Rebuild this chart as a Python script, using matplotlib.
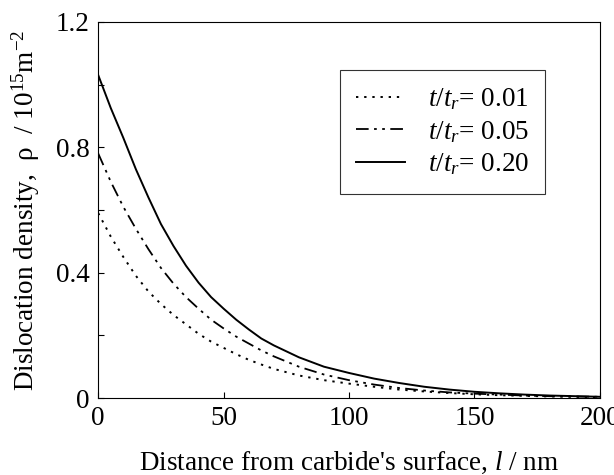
import matplotlib
matplotlib.use("Agg")
import matplotlib.pyplot as plt
from matplotlib.ticker import MultipleLocator

plt.rcParams['font.family'] = ['Liberation Serif', 'DejaVu Serif']
plt.rcParams['mathtext.fontset'] = 'custom'
plt.rcParams['mathtext.rm'] = 'Liberation Serif'
plt.rcParams['mathtext.it'] = 'Liberation Serif:italic'

distance = [0, 5, 10, 15, 20, 25, 30, 35, 40, 45, 50, 55, 60, 65, 70, 80, 90, 100,
            110, 120, 130, 140, 150, 160, 170, 180, 190, 200]
rho_001 = [0.59, 0.515, 0.45, 0.39, 0.34, 0.30, 0.265, 0.235, 0.205, 0.18, 0.16,
           0.14, 0.122, 0.107, 0.093, 0.072, 0.057, 0.046, 0.036, 0.027, 0.021,
           0.016, 0.012, 0.009, 0.007, 0.005, 0.004, 0.003]
rho_005 = [0.78, 0.69, 0.61, 0.54, 0.475, 0.415, 0.365, 0.322, 0.285, 0.25, 0.222,
           0.196, 0.174, 0.152, 0.133, 0.100, 0.075, 0.057, 0.043, 0.032, 0.024,
           0.018, 0.014, 0.011, 0.008, 0.006, 0.005, 0.004]
rho_020 = [1.03, 0.925, 0.83, 0.73, 0.64, 0.555, 0.485, 0.422, 0.368, 0.322, 0.285,
           0.25, 0.219, 0.19, 0.168, 0.130, 0.100, 0.080, 0.062, 0.048, 0.036,
           0.027, 0.020, 0.015, 0.011, 0.008, 0.006, 0.004]
labels = [r'$t/t_r$= 0.01', r'$t/t_r$= 0.05', r'$t/t_r$= 0.20']

FS = 19.5

fig = plt.figure(figsize=(6.14, 4.75), dpi=100)
ax = fig.add_axes([0.160, 0.162, 0.817, 0.792])

ax.plot(distance, rho_001, color='black', lw=1.4, linestyle=(0, (1.2, 3.0)), label=labels[0])
ax.plot(distance, rho_005, color='black', lw=1.3, linestyle=(0, (7, 3, 1.5, 3, 1.5, 3)), label=labels[1])
ax.plot(distance, rho_020, color='black', lw=1.4, linestyle='-', label=labels[2])

ax.set_xlim(0, 200)
ax.set_ylim(0, 1.2)
ax.set_xticks([0, 50, 100, 150, 200])
ax.set_yticks([0, 0.4, 0.8, 1.2])
ax.set_yticklabels(['0', '0.4', '0.8', '1.2'])
ax.yaxis.set_minor_locator(MultipleLocator(0.2))
ax.tick_params(direction='in', length=4, width=0.8, labelsize=FS, pad=6)
ax.tick_params(which='minor', direction='in', length=4, width=0.8)
for s in ax.spines.values():
    s.set_linewidth(0.8)

ax.set_xlabel(r"Distance from carbide's surface, $l$ / nm", fontsize=FS, labelpad=13)
ax.set_ylabel(r"Dislocation density,  ρ  / 10$^{15}$m$^{-2}$", fontsize=FS, labelpad=10)

leg = ax.legend(loc='upper left', bbox_to_anchor=(0.482, 0.872), fontsize=FS,
                frameon=True, fancybox=False, edgecolor='black', handlelength=1.8,
                handletextpad=0.85, borderpad=0.6, labelspacing=0.25, borderaxespad=0)
leg.get_frame().set_linewidth(0.8)

fig.savefig('out.png', dpi=100)
